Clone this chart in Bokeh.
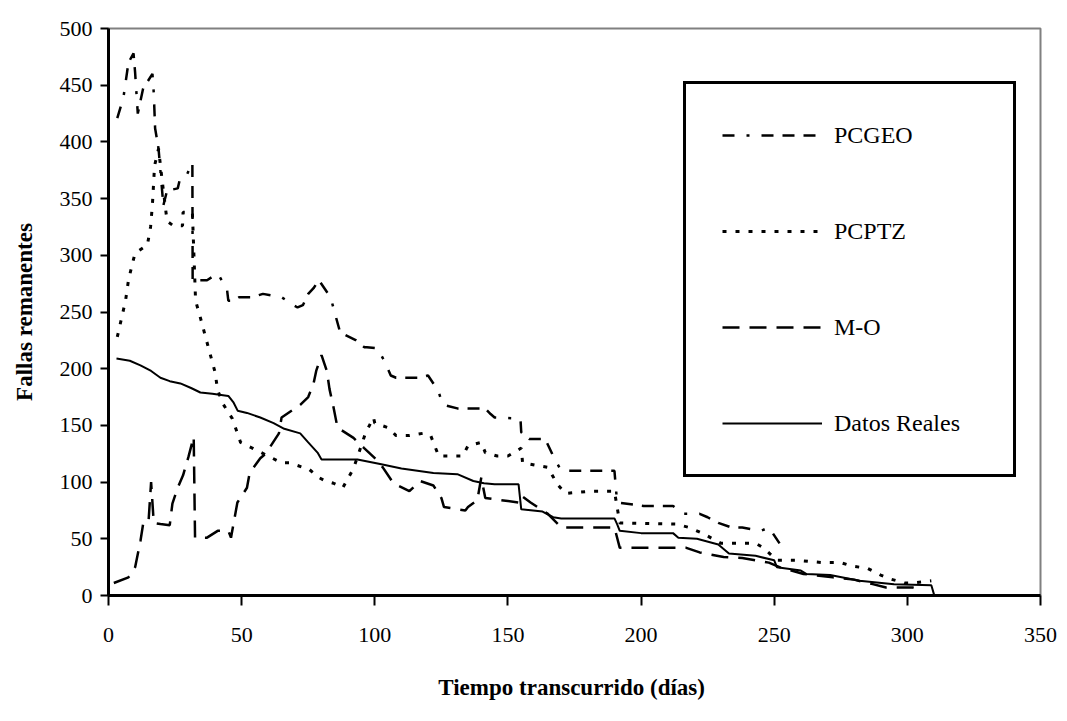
from bokeh.plotting import figure
from bokeh.models import Range1d, FixedTicker, Legend, LegendItem
from bokeh.embed import file_html
from bokeh.resources import INLINE

# ---------------- data ----------------
x_ticks = [0, 50, 100, 150, 200, 250, 300, 350]
y_ticks = [0, 50, 100, 150, 200, 250, 300, 350, 400, 450, 500]

pcgeo_x = [3.3, 5.6, 7.5, 9.4, 10, 11, 13, 16.5, 17, 17.5, 18.8, 20.6, 22, 26, 27, 29.6,
           31.5, 31.6, 37, 41, 44.5, 45, 47, 49, 54, 58, 65, 67, 69.5, 71, 73, 75, 77, 79,
           83.4, 85, 87, 93, 96, 97, 101, 104, 106, 108, 113, 117, 120, 122, 123.5, 125,
           126, 131, 134, 140, 141, 143.5, 145, 154.7, 155, 158, 164, 167, 170, 190, 191,
           201, 212, 216, 222, 225, 229, 234, 238, 245, 248, 252]
pcgeo_y = [421, 439, 470, 478, 461, 425, 447, 460, 443, 412, 394, 344, 357, 359, 369, 372,
           382, 278, 278, 284, 270, 260, 260, 263, 263, 266, 263, 260, 256, 254, 256, 266,
           271, 278, 263, 249, 232, 225, 219, 219, 218, 205, 194, 192, 192, 192, 194, 187,
           183, 172, 168, 165, 165, 165, 166, 160, 157, 156, 144, 138, 138, 123, 110, 110,
           82, 79, 79, 72, 72, 69, 64, 60, 60, 57, 60, 46]

pcptz_x = [3.3, 6.4, 7.5, 9, 10, 14.6, 15.8, 16.5, 17.3, 18.8, 20, 22, 24.4, 27.8, 28,
           31.5, 32.7, 34.5, 40, 41, 43, 46.5, 49.6, 54, 65, 68, 73, 75, 79, 81.5, 84.5,
           88, 92, 96.5, 99.5, 100, 105, 108, 113, 118, 121, 124, 125, 133, 135, 140,
           141.5, 146, 150, 153.6, 155, 155.5, 160, 165, 168.6, 171.6, 181, 188.5, 190,
           192, 213, 218, 223, 230, 243, 246, 251, 259, 268, 275, 279, 285, 290, 293,
           299, 302, 309]
pcptz_y = [228, 260, 278, 293, 302, 309, 325, 345, 379, 394, 369, 330, 326, 326, 338,
           338, 260, 245, 197, 181, 169, 156, 135, 130, 117, 117, 113, 112, 104, 101, 99,
           95, 112, 143, 157, 152, 148, 141, 141, 143, 141, 123, 123, 123, 132, 135, 126,
           123, 123, 128, 130, 117, 115, 113, 98, 90, 92, 92, 92, 64, 63, 60, 55, 46, 46,
           42, 31, 31, 29, 29, 26, 24, 18, 15, 11, 11, 13]

mo_x = [2, 7.5, 10, 12, 13, 15, 16, 17, 19.5, 23, 24, 26, 28, 30, 32, 32.5, 37, 41, 45,
        46, 48.4, 52, 53, 57, 59, 64, 65, 72, 75, 77, 78, 80, 81, 82, 83, 84.5, 86, 92,
        96, 101, 103, 107, 113, 117, 122, 125, 126, 134, 135, 138.5, 140, 141.5, 154,
        155, 158.5, 165, 170, 190, 192, 217, 222, 231, 238, 248, 252, 261, 272, 280,
        287, 292, 302, 305]
mo_y = [11, 16, 25, 48, 63, 64, 100, 64, 63, 62, 81, 95, 106, 122, 140, 51, 51, 57, 57,
        51, 82, 95, 108, 121, 125, 143, 157, 168, 175, 187, 198, 212, 205, 198, 182,
        166, 148, 139, 130, 119, 113, 99, 92, 101, 97, 86, 78, 75, 78, 84, 104, 86, 82,
        88, 82, 72, 60, 60, 42, 42, 38, 34, 33, 29, 25, 19, 16, 14, 10, 7, 7, 5]

real_x = [3, 8, 12, 16, 19.5, 23, 27, 31, 34.5, 39, 45, 47, 48.5, 52, 57, 62, 66, 72, 75,
          78.5, 80, 93.5, 102, 110, 122, 131, 137, 141, 145, 154, 155, 163, 167, 170,
          190, 191, 192, 200, 212, 214, 221, 229, 233, 243, 250, 251, 260, 262, 271, 282,
          295, 309, 310]
real_y = [209, 207, 203, 198, 192, 189, 187, 183, 179, 178, 176, 170, 163, 161, 157, 152,
          147, 143, 135, 126, 120, 120, 116, 112, 108, 107, 101, 99, 98, 98, 76, 74, 69,
          68, 68, 63, 57, 55, 55, 51, 50, 45, 37, 35, 31, 25, 22, 19, 18, 13, 10, 9, 1]

series_names = ["PCGEO", "PCPTZ", "M-O", "Datos Reales"]

# ---------------- figure ----------------
FONT = "Liberation Serif"
p = figure(width=1067, height=721, output_backend="svg", toolbar_location=None,
           x_range=Range1d(0, 350), y_range=Range1d(0, 500),
           min_border_left=108, min_border_right=27, min_border_top=28,
           min_border_bottom=126)
p.grid.visible = False
p.outline_line_color = "#808080"
p.outline_line_width = 2
p.background_fill_color = "white"
p.border_fill_color = "white"

for ax in (p.xaxis[0], p.yaxis[0]):
    ax.axis_line_color = "black"
    ax.axis_line_width = 3
    ax.major_tick_line_color = "black"
    ax.major_tick_line_width = 2
    ax.major_tick_in = 0
    ax.minor_tick_line_color = None
    ax.major_label_text_font = FONT
    ax.major_label_text_font_size = "22px"
    ax.major_label_text_color = "black"
    ax.axis_label_text_font = FONT
    ax.axis_label_text_font_style = "bold"
    ax.axis_label_text_font_size = "23px"
    ax.axis_label_text_color = "black"

p.xaxis.ticker = FixedTicker(ticks=x_ticks)
p.yaxis.ticker = FixedTicker(ticks=y_ticks)
p.xaxis.major_tick_out = 10
p.xaxis.major_label_standoff = 22
p.xaxis.axis_label = "Tiempo transcurrido  (días)"
p.xaxis.axis_label_standoff = 30
p.yaxis.major_tick_out = 8
p.yaxis.major_label_standoff = 8
p.yaxis.axis_label = "Fallas remanentes"
p.yaxis.axis_label_standoff = 20

r_geo = p.line(pcgeo_x, pcgeo_y, line_color="black", line_width=2.5,
               line_dash="12 12 3 12 12 9 12 9")
r_ptz = p.line(pcptz_x, pcptz_y, line_color="black", line_width=3,
               line_dash="4 9")
r_mo = p.line(mo_x, mo_y, line_color="black", line_width=2.5, line_dash="17 10")
r_real = p.line(real_x, real_y, line_color="black", line_width=2)

legend = Legend(
    items=[LegendItem(label=n, renderers=[r]) for n, r in
           zip(series_names, [r_geo, r_ptz, r_mo, r_real])],
    location=(575, 118),
    border_line_color="black", border_line_width=3, border_line_alpha=1,
    background_fill_color="white", background_fill_alpha=1,
    padding=36, spacing=66, margin=0,
    glyph_width=100, glyph_height=30, label_height=30, label_width=143,
    label_standoff=12, label_text_font=FONT, label_text_font_size="24px",
    label_text_color="black",
)
p.add_layout(legend, "center")

open("out.html", "w").write(file_html(p, INLINE))
